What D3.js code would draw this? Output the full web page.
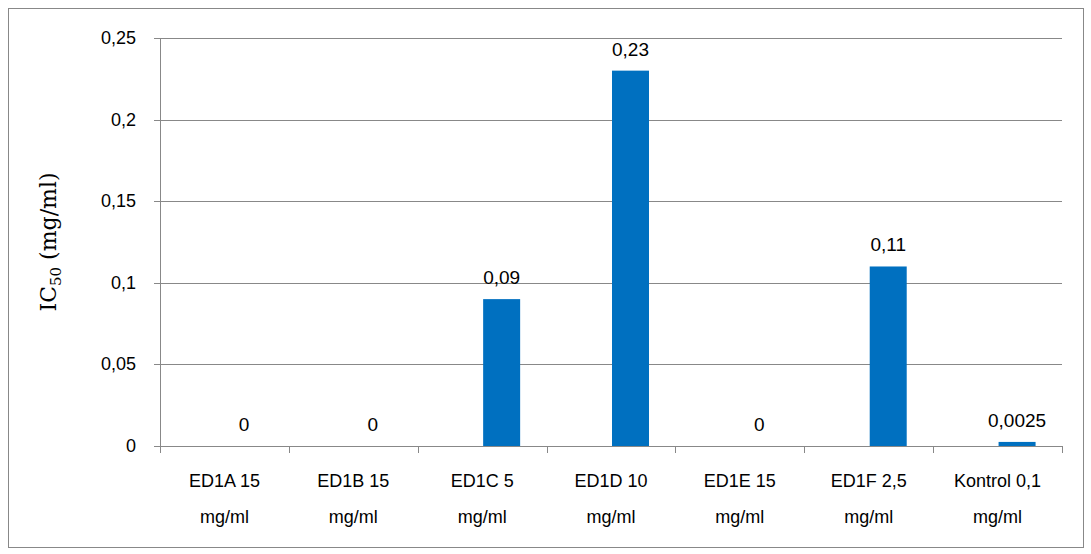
<!DOCTYPE html>
<html><head><meta charset="utf-8">
<script src="https://cdn.jsdelivr.net/npm/d3@7"></script>
<style>body{margin:0;background:#fff}</style>
</head><body>
<svg id="chart" width="1091" height="554"></svg>
<script>
// data
var categories = [["ED1A 15","mg/ml"],["ED1B 15","mg/ml"],["ED1C 5","mg/ml"],["ED1D 10","mg/ml"],["ED1E 15","mg/ml"],["ED1F 2,5","mg/ml"],["Kontrol 0,1","mg/ml"]];
var values = [0, 0, 0.09, 0.23, 0, 0.11, 0.0025];
var valueLabels = ["0","0","0,09","0,23","0","0,11","0,0025"];
var yTicks = [0, 0.05, 0.1, 0.15, 0.2, 0.25];
var yTickLabels = ["0","0,05","0,1","0,15","0,2","0,25"];

var svg = d3.select("#chart");
var font = "Liberation Sans, Arial, sans-serif";
var plotLeft = 160, plotRight = 1062, plotTop = 38, plotBottom = 446;

svg.append("rect").attr("x", 8.5).attr("y", 8.5).attr("width", 1075).attr("height", 539)
    .attr("fill", "none").attr("stroke", "#888");

var x = d3.scaleBand().domain(d3.range(categories.length)).range([plotLeft, plotRight]);
var y = d3.scaleLinear().domain([0, 0.25]).range([plotBottom, plotTop]);

// gridlines
svg.selectAll(".grid").data(yTicks).enter().append("line")
    .attr("x1", plotLeft - 6).attr("x2", plotRight)
    .attr("y1", function (d) { return Math.round(y(d)) + 0.5; })
    .attr("y2", function (d) { return Math.round(y(d)) + 0.5; })
    .attr("stroke", "#888");
svg.append("line").attr("x1", plotLeft + 0.5).attr("x2", plotLeft + 0.5).attr("y1", plotTop).attr("y2", plotBottom)
    .attr("stroke", "#888");

svg.selectAll(".ylab").data(yTicks).enter().append("text")
    .attr("x", 136).attr("y", function (d) { return y(d) + 6; })
    .attr("text-anchor", "end").attr("font-family", font).attr("font-size", 18)
    .text(function (d, i) { return yTickLabels[i]; });

// x ticks at category boundaries
var bounds = d3.range(categories.length + 1).map(function (i) { return plotLeft + i * x.step(); });
svg.selectAll(".xtick").data(bounds).enter().append("line")
    .attr("x1", function (d) { return Math.round(d) + 0.5; })
    .attr("x2", function (d) { return Math.round(d) + 0.5; })
    .attr("y1", plotBottom).attr("y2", plotBottom + 7).attr("stroke", "#888");

// bars sit right of the band centre, as in the original
var bw = 37, barShift = 19.5;
svg.selectAll(".bar").data(values).enter().append("rect")
    .attr("x", function (d, i) { return x(i) + x.bandwidth() / 2 + barShift - bw / 2; })
    .attr("y", function (d) { return y(d); })
    .attr("width", bw)
    .attr("height", function (d) { return plotBottom - y(d); })
    .attr("fill", "#0070C0");

svg.selectAll(".vlab").data(values).enter().append("text")
    .attr("x", function (d, i) { return x(i) + x.bandwidth() / 2 + barShift; })
    .attr("y", function (d) { return y(d) - 15; })
    .attr("text-anchor", "middle").attr("font-family", font).attr("font-size", 19)
    .text(function (d, i) { return valueLabels[i]; });

var xl = svg.selectAll(".xlab").data(categories).enter().append("text")
    .attr("text-anchor", "middle").attr("font-family", font).attr("font-size", 18);
xl.append("tspan").attr("x", function (d, i) { return x(i) + x.bandwidth() / 2; }).attr("y", 487)
    .text(function (d) { return d[0]; });
xl.append("tspan").attr("x", function (d, i) { return x(i) + x.bandwidth() / 2; }).attr("y", 523)
    .text(function (d) { return d[1]; });

var yl = svg.append("text").attr("transform", "translate(56,242) rotate(-90)")
    .attr("text-anchor", "middle").attr("font-family", "DejaVu Serif, serif").attr("font-size", 22);
yl.append("tspan").text("IC");
yl.append("tspan").attr("font-size", 15).attr("dy", 5).text("50");
yl.append("tspan").attr("dy", -5).text(" (mg/ml)");
</script>
</body></html>
